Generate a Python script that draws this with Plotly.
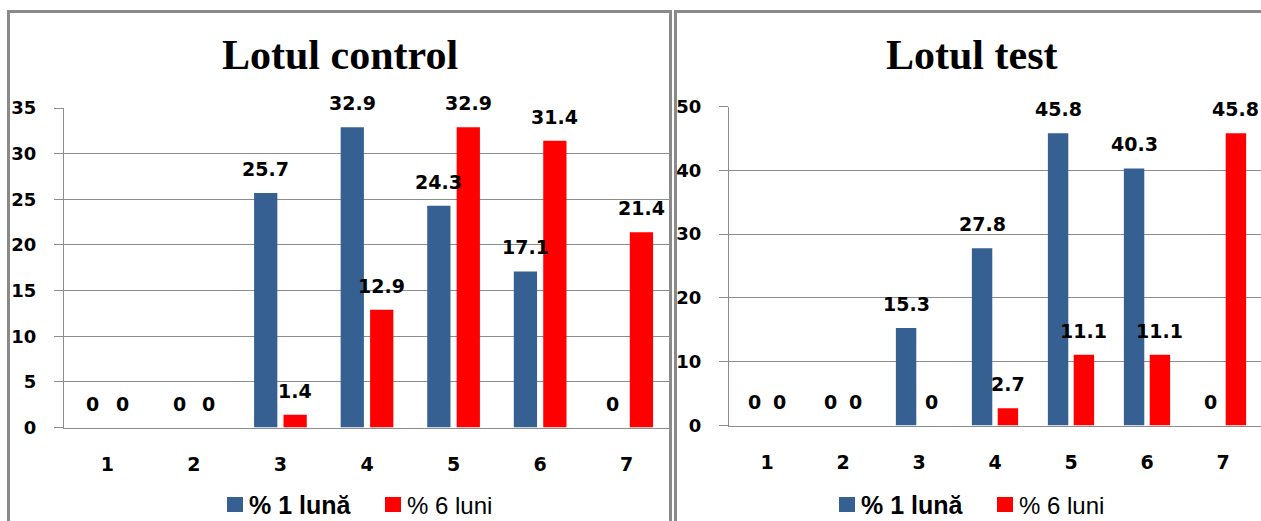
import plotly.graph_objects as go

# Categories and percentages for the two study groups
categories = ["1", "2", "3", "4", "5", "6", "7"]
control_1_luna = [0, 0, 25.7, 32.9, 24.3, 17.1, 0]
control_6_luni = [0, 0, 1.4, 12.9, 32.9, 31.4, 21.4]
test_1_luna = [0, 0, 15.3, 27.8, 45.8, 40.3, 0]
test_6_luni = [0, 0, 0, 2.7, 11.1, 11.1, 45.8]

series_names = ["% 1 lună", "% 6 luni"]
panel_titles = ["Lotul control", "Lotul test"]

W, H = 1261, 521
BLUE = "#376092"
RED = "#FF0000"
GRID = "#8c8c8c"
BORDER = "#8a8a8a"
LABEL_FONT = "DejaVu Sans"

BARGAP = 0.32
BARGROUPGAP = 0.21
slot_offset = (1 - BARGAP) / 4  # distance of each bar centre from category centre


def px(x):
    return x / W


def py(y):
    return 1 - y / H


xs = list(range(1, len(categories) + 1))

fig = go.Figure()

panels = [
    ("x", "y", control_1_luna, control_6_luni),
    ("x2", "y2", test_1_luna, test_6_luni),
]

annotations = []
for xa, ya, s1, s6 in panels:
    for vals, color, sign in ((s1, BLUE, -1), (s6, RED, 1)):
        fig.add_trace(go.Bar(
            x=xs, y=vals, xaxis=xa, yaxis=ya,
            marker=dict(color=color, line=dict(width=0)),
            showlegend=False, hoverinfo="skip",
        ))
        for xi, v in zip(xs, vals):
            annotations.append(dict(
                x=xi + sign * slot_offset, y=v, xref=xa, yref=ya,
                text=f"{v:g}", showarrow=False, yshift=24,
                xanchor="center", yanchor="middle",
                font=dict(family=LABEL_FONT, size=19, color="black", weight="bold"),
            ))

axis_common = dict(
    showline=True, linecolor=GRID, linewidth=1,
    zeroline=False, fixedrange=True, automargin=False,
)
ytick_font = dict(family=LABEL_FONT, size=18, color="black", weight="bold")
xtick_font = dict(family=LABEL_FONT, size=19, color="black", weight="bold")

fig.update_layout(
    width=W, height=H,
    margin=dict(l=0, r=0, t=0, b=0, autoexpand=False),
    paper_bgcolor="white", plot_bgcolor="white",
    showlegend=False,
    barmode="group", bargap=BARGAP, bargroupgap=BARGROUPGAP,
    xaxis=dict(
        domain=[px(64), px(670)], anchor="y", range=[0.5, 7.5],
        tickvals=xs, ticktext=categories, ticks="", ticklabelstandoff=20,
        showgrid=False, tickfont=xtick_font, **axis_common,
    ),
    yaxis=dict(
        domain=[py(427.5), py(108)], anchor="x", range=[0, 35], dtick=5,
        ticks="outside", ticklen=9, tickcolor=GRID, ticklabelstandoff=14,
        showgrid=True, gridcolor=GRID, gridwidth=1,
        tickfont=ytick_font, **axis_common,
    ),
    xaxis2=dict(
        domain=[px(729), 1.0], anchor="y2", range=[0.5, 7.5],
        tickvals=xs, ticktext=categories, ticks="", ticklabelstandoff=20,
        showgrid=False, tickfont=xtick_font, **axis_common,
    ),
    yaxis2=dict(
        domain=[py(425.5), py(106.5)], anchor="x2", range=[0, 50], dtick=10,
        ticks="outside", ticklen=9, tickcolor=GRID, ticklabelstandoff=14,
        showgrid=True, gridcolor=GRID, gridwidth=1,
        tickfont=ytick_font, **axis_common,
    ),
)

# Panel titles
for title, cx in zip(panel_titles, (340, 972)):
    annotations.append(dict(
        x=px(cx), y=py(55), xref="paper", yref="paper", text=f"<b>{title}</b>",
        showarrow=False, xanchor="center", yanchor="middle",
        font=dict(family="Liberation Serif", size=42, color="black"),
    ))

shapes = []
# Panel frames
shapes.append(dict(type="rect", xref="paper", yref="paper",
                   x0=px(8.5), x1=px(670.5), y0=-0.1, y1=py(11.5),
                   line=dict(color=BORDER, width=3), layer="below"))
shapes.append(dict(type="rect", xref="paper", yref="paper",
                   x0=px(675.5), x1=1.1, y0=-0.1, y1=py(11.5),
                   line=dict(color=BORDER, width=3), layer="below"))

# Legends under each panel
for shift in (0, 612):
    for (x0, color, name, bold, size) in ((227, BLUE, series_names[0], True, 25),
                                          (385, RED, series_names[1], False, 24)):
        shapes.append(dict(type="rect", xref="paper", yref="paper",
                           x0=px(x0 + shift), x1=px(x0 + shift + 16),
                           y0=py(512), y1=py(497),
                           fillcolor=color, line=dict(width=0)))
        annotations.append(dict(
            x=px(x0 + shift + 20), y=py(505), xref="paper", yref="paper",
            text=f"<b>{name}</b>" if bold else name, showarrow=False,
            xanchor="left", yanchor="middle",
            font=dict(family="Liberation Sans", size=size, color="black"),
        ))

fig.update_layout(annotations=annotations, shapes=shapes)

fig.write_html("out.html")
